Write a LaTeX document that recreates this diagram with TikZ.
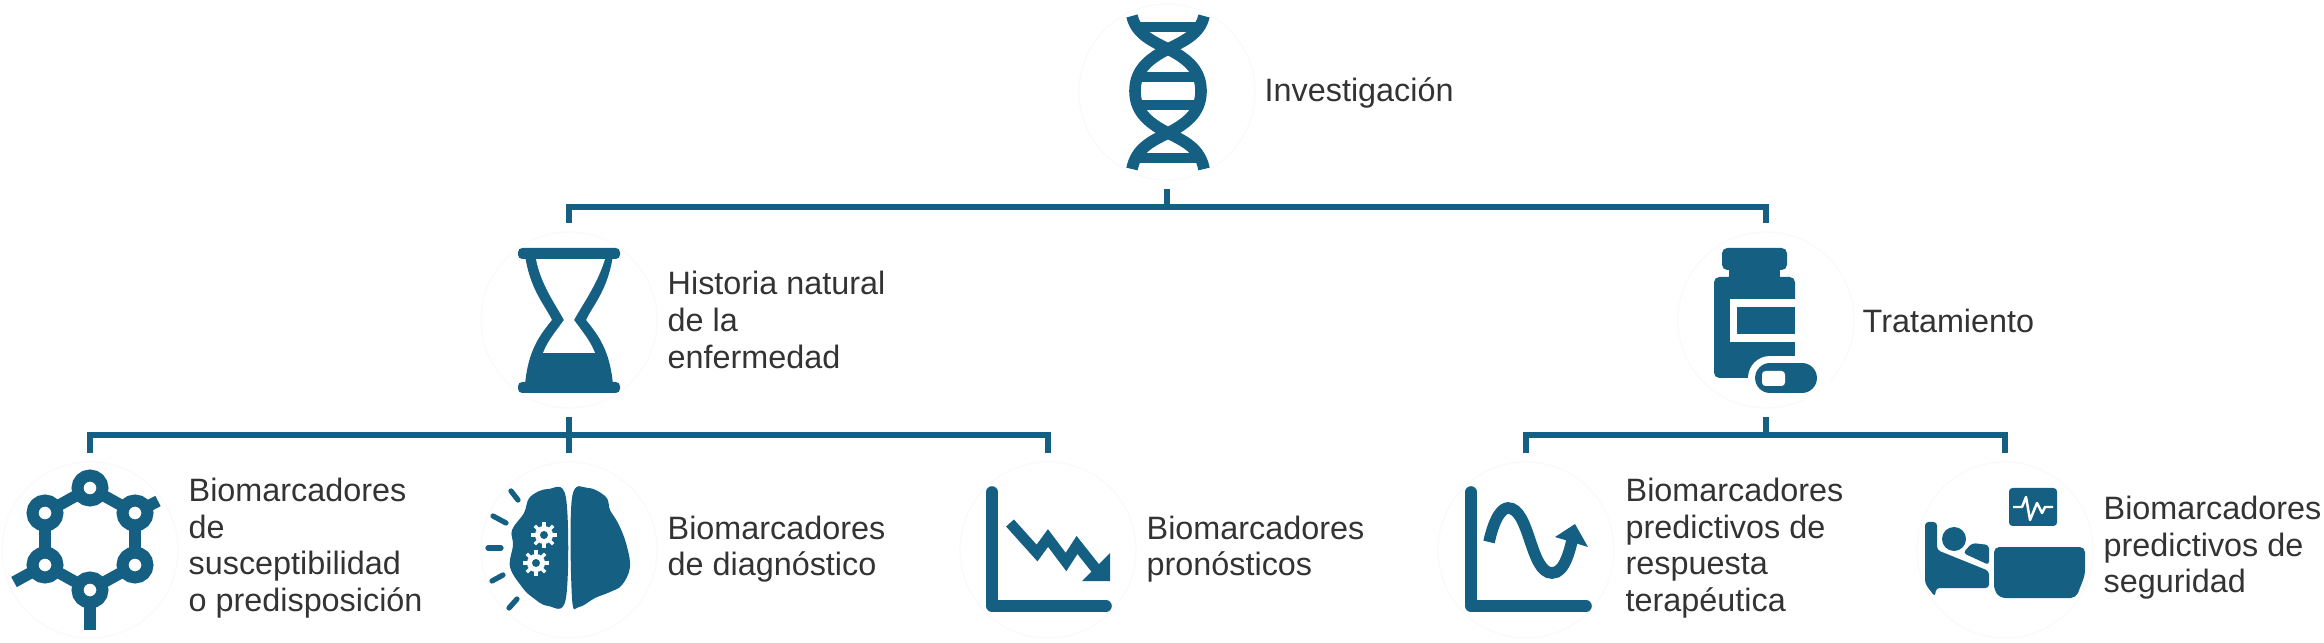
\documentclass[tikz,border=0pt]{standalone}
\usepackage{fontspec}
\setmainfont{Liberation Sans}
\usetikzlibrary{positioning, calc}
\definecolor{biomarkblue}{HTML}{156082}
\definecolor{biomarktext}{HTML}{333333}
\definecolor{biomarkring}{HTML}{FAFAFA}
\tikzset{
  iconring/.style={circle, draw=biomarkring, line width=0.4pt, minimum size=1.76cm, inner sep=0pt, outer sep=2.5pt},
  tag/.style={anchor=west, align=left, inner sep=0pt, text=biomarktext, font=\fontsize{9.2}{10.4}\selectfont},
  link/.style={draw=biomarkblue, line width=1.7pt},
  iconfill/.style={fill=biomarkblue},
  iconline/.style={draw=biomarkblue, line width=3.3pt}
}
\begin{document}
\begin{tikzpicture}[x=0.01cm, y=-0.01cm]
  \useasboundingbox (0,0) rectangle (2324,643);

  \node[iconring] (dnaicon) at (1167,92) {};
  \node[iconring] (hourglassicon) at (569,320) {};
  \node[iconring] (bottleicon) at (1766,320) {};
  \node[iconring] (moleculeicon) at (90,550) {};
  \node[iconring] (brainicon) at (569,550) {};
  \node[iconring] (fallicon) at (1048,550) {};
  \node[iconring] (waveicon) at (1526,550) {};
  \node[iconring] (bedicon) at (2005,550) {};

  \node[tag] (dnatag) at (1264,93) {Investigación};
  \node[tag] (hourglasstag) at (667,320) {Historia natural\\de la\\enfermedad};
  \node[tag] (bottletag) at (1862,321) {Tratamiento};
  \node[tag] (moleculetag) at (188,548) {Biomarcadores\\de\\susceptibilidad\\o predisposición};
  \node[tag] (braintag) at (667,549) {Biomarcadores\\de diagnóstico};
  \node[tag] (falltag) at (1146,549) {Biomarcadores\\pronósticos};
  \node[tag] (wavetag) at (1625,548) {Biomarcadores\\predictivos de\\respuesta\\terapéutica};
  \node[tag] (bedtag) at (2103,548) {Biomarcadores\\predictivos de\\seguridad};

  \coordinate (topbus) at (1167,207);
  \coordinate (leftbus) at (569,435);
  \coordinate (rightbus) at (1766,435);
  \draw[link] (dnaicon.south) -- (topbus);
  \draw[link] (hourglassicon.north) |- (topbus) -| (bottleicon.north);
  \draw[link] (hourglassicon.south) -- (brainicon.north);
  \draw[link] (moleculeicon.north) |- (leftbus) -| (fallicon.north);
  \draw[link] (bottleicon.south) -- (rightbus);
  \draw[link] (waveicon.north) |- (rightbus) -| (bedicon.north);

  \draw[iconline] (1132,16) .. controls (1136,34) and (1152,41) .. (1168,49) .. controls (1190,60) and (1201,72) .. (1201,91) .. controls (1201,110) and (1190,122) .. (1168,133) .. controls (1152,141) and (1136,148) .. (1132,169);
  \draw[iconline] (1204,16) .. controls (1200,34) and (1184,41) .. (1168,49) .. controls (1146,60) and (1135,72) .. (1135,91) .. controls (1135,110) and (1146,122) .. (1168,133) .. controls (1184,141) and (1200,148) .. (1204,169);
  \foreach \y in {27,77,105,158}{
    \fill[iconfill] (1136,\y-5) rectangle (1200,\y+5);
  }

  \fill[iconfill] (525,255) .. controls (530,290) and (545,305) .. (552,320) .. controls (540,335) and (528,350) .. (525,385) -- (613,385) .. controls (610,350) and (598,335) .. (586,320) .. controls (593,305) and (608,290) .. (613,255) -- cycle;
  \fill[white] (536,259) .. controls (541,285) and (556,305) .. (564,320) .. controls (557,330) and (548,340) .. (543,353) -- (595,353) .. controls (590,340) and (581,330) .. (574,320) .. controls (582,305) and (597,285) .. (605,259) -- cycle;
  \fill[iconfill, rounded corners=1.2pt] (518,248) rectangle (620,259);
  \fill[iconfill, rounded corners=1.2pt] (518,382) rectangle (620,393);

  \fill[iconfill, rounded corners=1.5pt] (1722,248) rectangle (1787,270);
  \fill[iconfill] (1729,265) rectangle (1780,280);
  \fill[iconfill, rounded corners=1.5pt] (1714,277) -- (1795,277) -- (1795,378) -- (1714,378) -- cycle;
  \fill[white] (1730,299) rectangle (1797,342);
  \fill[iconfill] (1737,307) rectangle (1795,334);
  \fill[white] (1795,340) rectangle (1830,400);
  \draw[white, line width=12.5pt, line cap=round] (1770,378) -- (1802,378);
  \draw[biomarkblue, line width=8.5pt, line cap=round] (1770,378) -- (1802,378);
  \fill[white, rounded corners=1pt] (1762,371) rectangle (1785,386);

  \draw[iconline] (135,513) -- (158,501);
  \draw[iconline] (45,565) -- (14,582);
  \draw[iconline] (90,590) -- (90,630);
  \draw[iconline] (90,488) -- (135,513) -- (135,565) -- (90,590) -- (45,565) -- (45,513) -- cycle;
  \foreach \x/\y in {90/488,135/513,135/565,90/590,45/565,45/513}{
    \fill[white] (\x,\y) circle (12);
    \draw[iconline, line width=3.4pt] (\x,\y) circle (12.5);
  }

  \fill[iconfill] plot[smooth cycle, tension=0.6] coordinates {(548,489) (566,498) (566,598) (548,606) (532,597) (522,587) (510,567) (513,545) (512,530) (524,513) (530,497)};
  \fill[iconfill] plot[smooth cycle, tension=0.6] coordinates {(572,498) (588,488) (606,497) (610,510) (618,523) (626,543) (630,567) (622,585) (610,592) (595,598) (579,607) (572,598)};
  \foreach \x/\y in {544/535,536/563}{
    \fill[white] (\x,\y) circle (9);
    \fill[biomarkblue] (\x,\y) circle (4);
    \foreach \a in {0,45,...,315}{
      \draw[white, line width=1pt] ($(\x,\y)+(\a:7)$) -- ($(\x,\y)+(\a:13)$);
    }
  }
  \draw[biomarkblue, line width=1.5pt, line cap=round] (511,491) -- (518,500);
  \draw[biomarkblue, line width=1.5pt, line cap=round] (493,516) -- (506,523);
  \draw[biomarkblue, line width=1.5pt, line cap=round] (488,548) -- (501,548);
  \draw[biomarkblue, line width=1.5pt, line cap=round] (492,581) -- (503,575);
  \draw[biomarkblue, line width=1.5pt, line cap=round] (509,608) -- (517,599);

  \draw[iconline, line cap=round, line join=round] (992,492) -- (992,606) -- (1106,606);
  \draw[iconline, line width=3pt, line join=miter] (1010,523) -- (1037,553) -- (1048,538) -- (1066,562) -- (1077,545) -- (1100,574);
  \fill[iconfill] (1110,553) -- (1110,581) -- (1082,581) -- cycle;

  \draw[iconline, line cap=round, line join=round] (1471,492) -- (1471,606) -- (1586,606);
  \draw[iconline] (1489,542) .. controls (1495,515) and (1503,508) .. (1508,508) .. controls (1530,508) and (1530,573) .. (1552,573) .. controls (1565,573) and (1570,550) .. (1574,532);
  \fill[iconfill] (1575,524) -- (1555,537) -- (1588,547) -- cycle;

  \fill[iconfill, rounded corners=1pt] (2009,488) rectangle (2057,526);
  \draw[white, line width=0.7pt, line join=round] (2013,507) -- (2022,507) -- (2026,497) -- (2030,520) -- (2037,503) -- (2042,513) -- (2045,507) -- (2053,507);
  \fill[iconfill, rounded corners=1pt] (1925,577) -- (1925,522) -- (1937,522) -- (1937,550) -- (1989,571) -- (1989,588) -- (1936,588) -- (1935,597) .. controls (1930,590) and (1925,585) .. (1925,577) -- cycle;
  \fill[iconfill] (1954,539) circle (12);
  \fill[iconfill, rounded corners=1pt] (1963,553) -- (1972,543) -- (1989,545) -- (1989,565) -- cycle;
  \fill[iconfill, rounded corners=1.5pt] (1994,547) -- (2085,547) -- (2085,575) -- (2076,598) -- (2000,598) -- (1994,590) -- cycle;
\end{tikzpicture}
\end{document}
